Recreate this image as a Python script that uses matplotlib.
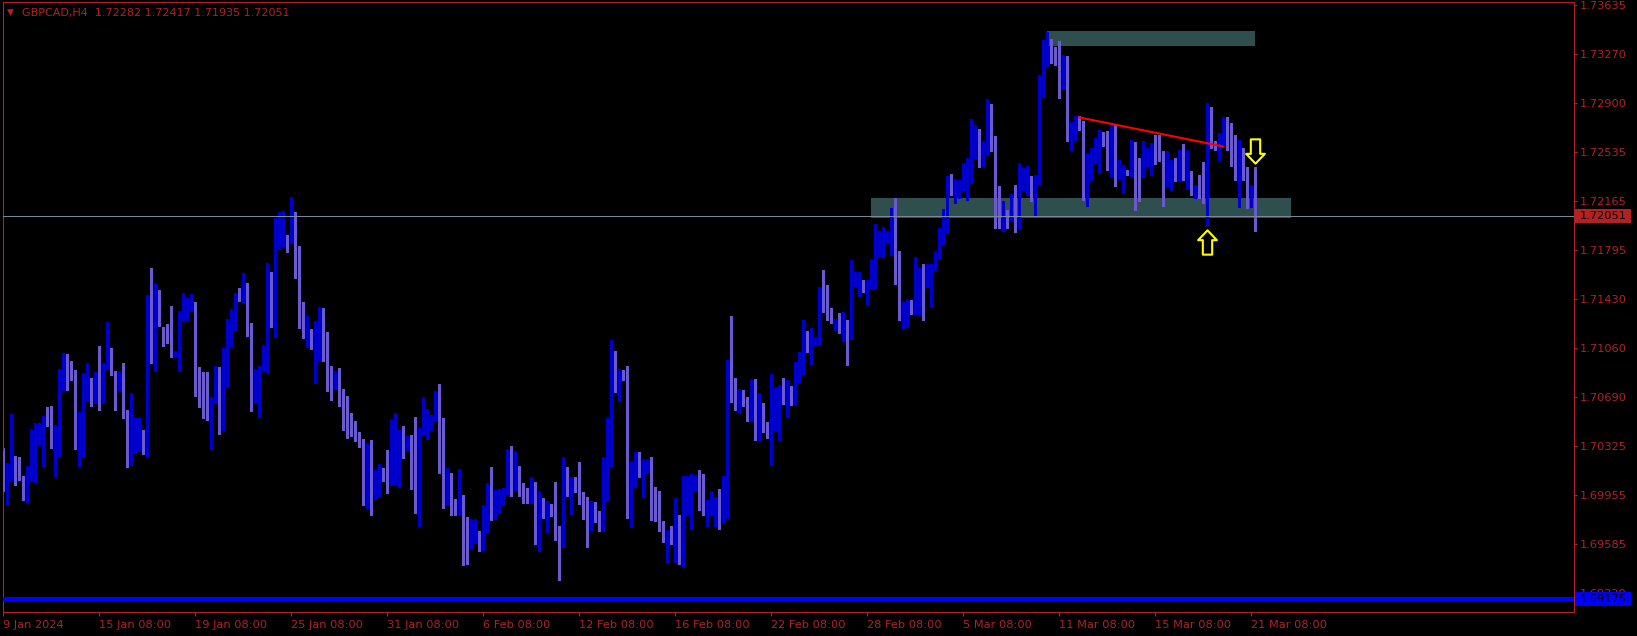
import numpy as np
import matplotlib
matplotlib.use('Agg')
import matplotlib.pyplot as plt
from matplotlib.patches import Rectangle
from matplotlib.path import Path

# GBPCAD H4 свечи (9 Jan - 21 Mar 2024)
opens = [
    1.70284, 1.70046, 1.70146, 1.70196, 1.70134, 1.70091, 1.69951, 1.70139, 1.70301, 1.70366,
    1.70246, 1.70536, 1.70491, 1.70316, 1.70334, 1.70764, 1.70904, 1.70889, 1.70881, 1.70314,
    1.70346, 1.70734, 1.70724, 1.70656, 1.70869, 1.70709, 1.70914, 1.71061, 1.70829, 1.70784,
    1.70881, 1.70596, 1.70196, 1.70296, 1.70401, 1.70426, 1.70334, 1.71414, 1.71031, 1.71489,
    1.71171, 1.71181, 1.71174, 1.70996, 1.71034, 1.71279, 1.71321, 1.71354, 1.71384, 1.70796,
    1.70801, 1.70791, 1.70366, 1.70651, 1.70919, 1.70559, 1.70996, 1.71109, 1.71219, 1.71474,
    1.71429, 1.71526, 1.71249, 1.70649, 1.70581, 1.70896, 1.71071, 1.71586, 1.71469, 1.71834,
    1.71829, 1.71901, 1.71864, 1.71879, 1.71804, 1.71264, 1.71144, 1.71204, 1.71071, 1.71086,
    1.71174, 1.71144, 1.70786, 1.70769, 1.70806, 1.70671, 1.70566, 1.70551, 1.70446, 1.70416,
    1.70349, 1.69969, 1.70319, 1.70081, 1.69946, 1.70116, 1.70109, 1.70051, 1.70209, 1.70319,
    1.70319, 1.70306, 1.70341, 1.70161, 1.70141, 1.70420, 1.70425, 1.70450, 1.70515, 1.70550,
    1.70225, 1.69915, 1.69995, 1.69898, 1.69865, 1.69943, 1.69610, 1.69570, 1.69595, 1.69650,
    1.69608, 1.69735, 1.70040, 1.69860, 1.69880, 1.69950, 1.69965, 1.70175, 1.70003, 1.70070,
    1.69965, 1.69965, 1.69920, 1.70040, 1.69653, 1.69890, 1.69713, 1.69865, 1.69845, 1.69700,
    1.69568, 1.70115, 1.69883, 1.70055, 1.69995, 1.69943, 1.69883, 1.69815, 1.69823, 1.69770,
    1.69763, 1.70228, 1.70288, 1.70963, 1.70663, 1.70865, 1.70858, 1.69808, 1.70153, 1.70213,
    1.69958, 1.70145, 1.70175, 1.69935, 1.69898, 1.69763, 1.69470, 1.69665, 1.69635, 1.69658,
    1.69590, 1.69885, 1.69765, 1.70003, 1.70063, 1.69965, 1.69830, 1.69853, 1.69763, 1.69943,
    1.69800, 1.69960, 1.70852, 1.70822, 1.70650, 1.70702, 1.70665, 1.70582, 1.70717, 1.70410,
    1.70485, 1.70462, 1.70417, 1.70492, 1.70537, 1.70747, 1.70560, 1.70717, 1.70680, 1.70815,
    1.70890, 1.71122, 1.70972, 1.71092, 1.71115, 1.71452, 1.71430, 1.71347, 1.71220, 1.71250,
    1.71190, 1.71205, 1.71182, 1.71535, 1.71452, 1.71550, 1.71490, 1.71527, 1.71677, 1.71790,
    1.71797, 1.71895, 1.71917, 1.72067, 1.71625, 1.71302, 1.71257, 1.71385, 1.71325, 1.71467,
    1.71587, 1.71520, 1.71385, 1.71670, 1.71737, 1.71925, 1.71977, 1.72292, 1.72157, 1.72225,
    1.72292, 1.72352, 1.72450, 1.72555, 1.72600, 1.72435, 1.72540, 1.72885, 1.72600, 1.72111,
    1.71973, 1.72036, 1.72036, 1.72203, 1.71953, 1.72298, 1.72218, 1.72278, 1.72218, 1.72356,
    1.72973, 1.73218, 1.73336, 1.73223, 1.73218, 1.73023, 1.73223, 1.72623, 1.72636, 1.72766,
    1.72728, 1.72266, 1.72323, 1.72498, 1.72461, 1.72616, 1.72598, 1.72348, 1.72681, 1.72348,
    1.72273, 1.72378, 1.72361, 1.72523, 1.72448, 1.72386, 1.72448, 1.72448, 1.72578, 1.72568,
    1.72473, 1.72423, 1.72248, 1.72436, 1.72328, 1.72406, 1.72348, 1.72373, 1.72223, 1.72316,
    1.72316, 1.72198, 1.72781, 1.72586, 1.72511, 1.72618, 1.72691, 1.72661, 1.72436, 1.72328,
    1.72486, 1.72352, 1.72202, 1.72282]
highs = [
    1.70309, 1.70196, 1.70566, 1.70246, 1.70241, 1.70096, 1.70176, 1.70454, 1.70496, 1.70496,
    1.70551, 1.70619, 1.70626, 1.70484, 1.70901, 1.71021, 1.71016, 1.70961, 1.70896, 1.70581,
    1.70871, 1.70949, 1.70834, 1.70876, 1.71076, 1.70946, 1.71256, 1.71061, 1.70889, 1.70889,
    1.70949, 1.70596, 1.70724, 1.70531, 1.70536, 1.70446, 1.71456, 1.71661, 1.71549, 1.71496,
    1.71216, 1.71241, 1.71376, 1.71039, 1.71334, 1.71476, 1.71434, 1.71466, 1.71406, 1.70919,
    1.70876, 1.70881, 1.70689, 1.70926, 1.70919, 1.71061, 1.71274, 1.71354, 1.71474, 1.71509,
    1.71624, 1.71551, 1.71249, 1.70904, 1.70926, 1.71084, 1.71699, 1.71631, 1.72036, 1.72081,
    1.72089, 1.71909, 1.72194, 1.72081, 1.71826, 1.71406, 1.71301, 1.71204, 1.71264, 1.71369,
    1.71361, 1.71181, 1.70926, 1.70889, 1.70911, 1.70754, 1.70701, 1.70574, 1.70514, 1.70426,
    1.70379, 1.70349, 1.70371, 1.70146, 1.70191, 1.70161, 1.70296, 1.70529, 1.70574, 1.70446,
    1.70476, 1.70404, 1.70404, 1.70544, 1.70461, 1.70690, 1.70603, 1.70558, 1.70738, 1.70790,
    1.70535, 1.70160, 1.70123, 1.69928, 1.70153, 1.69958, 1.69793, 1.69778, 1.69778, 1.69688,
    1.69883, 1.70048, 1.70168, 1.69990, 1.70003, 1.70008, 1.70303, 1.70325, 1.70288, 1.70175,
    1.70048, 1.70010, 1.70093, 1.70055, 1.69988, 1.69935, 1.69913, 1.69890, 1.70055, 1.69725,
    1.70243, 1.70168, 1.70093, 1.70093, 1.70205, 1.69980, 1.69943, 1.69913, 1.69905, 1.69838,
    1.70243, 1.70535, 1.71120, 1.71038, 1.70903, 1.70895, 1.70925, 1.70213, 1.70280, 1.70280,
    1.70228, 1.70228, 1.70243, 1.70018, 1.69988, 1.69763, 1.69695, 1.69725, 1.69935, 1.69808,
    1.70100, 1.70100, 1.70115, 1.70108, 1.70145, 1.70115, 1.69920, 1.69988, 1.69943, 1.70000,
    1.70100, 1.70972, 1.71302, 1.70837, 1.70755, 1.70747, 1.70695, 1.70830, 1.70830, 1.70725,
    1.70650, 1.70507, 1.70867, 1.70770, 1.70785, 1.70837, 1.70822, 1.70777, 1.70957, 1.71032,
    1.71272, 1.71190, 1.71212, 1.71145, 1.71520, 1.71647, 1.71535, 1.71362, 1.71280, 1.71325,
    1.71332, 1.71272, 1.71722, 1.71632, 1.71632, 1.71572, 1.71572, 1.71730, 1.71992, 1.71940,
    1.71970, 1.71940, 1.72112, 1.72187, 1.71790, 1.71415, 1.71430, 1.71422, 1.71745, 1.71662,
    1.71692, 1.71692, 1.71692, 1.71790, 1.71962, 1.72105, 1.72352, 1.72367, 1.72330, 1.72322,
    1.72450, 1.72487, 1.72780, 1.72735, 1.72705, 1.72615, 1.72930, 1.72892, 1.72652, 1.72273,
    1.72161, 1.72098, 1.72218, 1.72286, 1.72448, 1.72411, 1.72423, 1.72348, 1.72361, 1.73111,
    1.73373, 1.73431, 1.73381, 1.73323, 1.73366, 1.73256, 1.73253, 1.72753, 1.72798, 1.72798,
    1.72761, 1.72523, 1.72561, 1.72636, 1.72698, 1.72678, 1.72691, 1.72748, 1.72741, 1.72473,
    1.72436, 1.72398, 1.72623, 1.72606, 1.72486, 1.72611, 1.72561, 1.72598, 1.72661, 1.72661,
    1.72536, 1.72541, 1.72473, 1.72486, 1.72548, 1.72593, 1.72548, 1.72386, 1.72286, 1.72361,
    1.72456, 1.72898, 1.72873, 1.72611, 1.72673, 1.72793, 1.72796, 1.72748, 1.72661, 1.72623,
    1.72561, 1.72422, 1.72280, 1.72417]
lows = [
    1.69984, 1.69884, 1.70071, 1.70034, 1.70071, 1.69916, 1.69901, 1.70059, 1.70051, 1.70334,
    1.70176, 1.70476, 1.70309, 1.70096, 1.70251, 1.70746, 1.70741, 1.70821, 1.70301, 1.70171,
    1.70239, 1.70671, 1.70621, 1.70646, 1.70591, 1.70646, 1.70909, 1.70854, 1.70596, 1.70746,
    1.70531, 1.70164, 1.70181, 1.70271, 1.70296, 1.70266, 1.70239, 1.70944, 1.70889, 1.71226,
    1.71071, 1.71096, 1.70989, 1.70989, 1.70889, 1.71271, 1.71271, 1.71341, 1.70701, 1.70619,
    1.70531, 1.70521, 1.70301, 1.70646, 1.70416, 1.70446, 1.70764, 1.71071, 1.71191, 1.71414,
    1.71399, 1.71146, 1.70589, 1.70646, 1.70544, 1.70896, 1.70881, 1.71219, 1.71144, 1.71804,
    1.71829, 1.71784, 1.71849, 1.71586, 1.71211, 1.71136, 1.71069, 1.71054, 1.70794, 1.70959,
    1.70959, 1.70734, 1.70666, 1.70754, 1.70621, 1.70441, 1.70381, 1.70396, 1.70359, 1.70314,
    1.69879, 1.69856, 1.69804, 1.69926, 1.69946, 1.70059, 1.69969, 1.70036, 1.70036, 1.70014,
    1.70231, 1.70291, 1.69999, 1.69819, 1.69721, 1.70415, 1.70375, 1.70445, 1.70515, 1.70120,
    1.69855, 1.69883, 1.69808, 1.69808, 1.69810, 1.69428, 1.69435, 1.69558, 1.69595, 1.69533,
    1.69540, 1.69675, 1.69770, 1.69778, 1.69820, 1.69880, 1.69965, 1.69945, 1.69995, 1.69950,
    1.69898, 1.69895, 1.69898, 1.69585, 1.69533, 1.69783, 1.69680, 1.69800, 1.69615, 1.69320,
    1.69568, 1.69950, 1.69815, 1.69975, 1.69890, 1.69778, 1.69568, 1.69695, 1.69755, 1.69688,
    1.69688, 1.69913, 1.70175, 1.70730, 1.70663, 1.70820, 1.69785, 1.69718, 1.70018, 1.70093,
    1.69943, 1.70130, 1.69770, 1.69763, 1.69688, 1.69605, 1.69455, 1.69590, 1.69455, 1.69440,
    1.69425, 1.69815, 1.69703, 1.69995, 1.69845, 1.69808, 1.69725, 1.69808, 1.69725, 1.69700,
    1.69750, 1.69780, 1.70657, 1.70597, 1.70575, 1.70627, 1.70515, 1.70515, 1.70372, 1.70372,
    1.70425, 1.70380, 1.70180, 1.70447, 1.70372, 1.70642, 1.70545, 1.70635, 1.70642, 1.70807,
    1.70867, 1.71032, 1.70942, 1.71085, 1.71085, 1.71330, 1.71272, 1.71250, 1.71197, 1.71175,
    1.71115, 1.70935, 1.71130, 1.71527, 1.71452, 1.71482, 1.71392, 1.71512, 1.71505, 1.71752,
    1.71745, 1.71850, 1.71760, 1.71542, 1.71272, 1.71212, 1.71220, 1.71317, 1.71317, 1.71317,
    1.71272, 1.71520, 1.71370, 1.71647, 1.71737, 1.71835, 1.71925, 1.72210, 1.72150, 1.72187,
    1.72247, 1.72172, 1.72300, 1.72487, 1.72420, 1.72427, 1.72517, 1.72540, 1.71962, 1.71961,
    1.71936, 1.71961, 1.72023, 1.71928, 1.71953, 1.72248, 1.72211, 1.72161, 1.72048, 1.72286,
    1.72948, 1.73178, 1.73203, 1.73186, 1.72936, 1.73003, 1.72611, 1.72548, 1.72623, 1.72698,
    1.72173, 1.72123, 1.72323, 1.72448, 1.72373, 1.72573, 1.72398, 1.72348, 1.72273, 1.72336,
    1.72223, 1.72356, 1.72348, 1.72093, 1.72161, 1.72353, 1.72423, 1.72356, 1.72443, 1.72461,
    1.72123, 1.72273, 1.72248, 1.72311, 1.72311, 1.72323, 1.72253, 1.72211, 1.72186, 1.72186,
    1.72148, 1.71986, 1.72561, 1.72548, 1.72473, 1.72593, 1.72548, 1.72423, 1.72323, 1.72116,
    1.72323, 1.72109, 1.72117, 1.71935]
closes = [
    1.69984, 1.70146, 1.70196, 1.70159, 1.70076, 1.69951, 1.70146, 1.70301, 1.70371, 1.70451,
    1.70536, 1.70481, 1.70316, 1.70346, 1.70776, 1.70926, 1.70889, 1.70881, 1.70311, 1.70364,
    1.70739, 1.70901, 1.70656, 1.70869, 1.70709, 1.70916, 1.71061, 1.70854, 1.70784, 1.70889,
    1.70596, 1.70191, 1.70301, 1.70481, 1.70431, 1.70334, 1.71406, 1.71031, 1.71489, 1.71226,
    1.71166, 1.71166, 1.70996, 1.71039, 1.71286, 1.71354, 1.71366, 1.71384, 1.70791, 1.70791,
    1.70784, 1.70584, 1.70656, 1.70914, 1.70566, 1.71004, 1.71114, 1.71294, 1.71469, 1.71429,
    1.71526, 1.71244, 1.70649, 1.70759, 1.70901, 1.71084, 1.71576, 1.71469, 1.71841, 1.72081,
    1.71906, 1.71864, 1.71879, 1.71791, 1.71256, 1.71184, 1.71204, 1.71071, 1.71084, 1.71181,
    1.71136, 1.70851, 1.70779, 1.70806, 1.70666, 1.70561, 1.70546, 1.70486, 1.70411, 1.70344,
    1.69969, 1.70319, 1.70081, 1.70131, 1.70116, 1.70096, 1.70051, 1.70206, 1.70319, 1.70439,
    1.70306, 1.70341, 1.70156, 1.70141, 1.70424, 1.70555, 1.70460, 1.70520, 1.70550, 1.70220,
    1.69915, 1.70070, 1.69903, 1.69870, 1.69935, 1.69600, 1.69570, 1.69760, 1.69655, 1.69608,
    1.69740, 1.70040, 1.69860, 1.69965, 1.69955, 1.69975, 1.70175, 1.70070, 1.70070, 1.69988,
    1.69950, 1.69928, 1.70040, 1.69658, 1.69890, 1.69815, 1.69865, 1.69840, 1.69695, 1.69575,
    1.70115, 1.69975, 1.70055, 1.69995, 1.69935, 1.69875, 1.69815, 1.69853, 1.69763, 1.69763,
    1.70213, 1.70295, 1.70963, 1.70783, 1.70865, 1.70850, 1.69808, 1.70160, 1.70213, 1.70145,
    1.70153, 1.70175, 1.69928, 1.69890, 1.69755, 1.69628, 1.69665, 1.69635, 1.69658, 1.69590,
    1.69890, 1.69920, 1.70010, 1.70063, 1.69958, 1.69830, 1.69860, 1.69935, 1.69943, 1.69800,
    1.69960, 1.70852, 1.70815, 1.70687, 1.70702, 1.70657, 1.70582, 1.70717, 1.70410, 1.70650,
    1.70455, 1.70417, 1.70500, 1.70537, 1.70747, 1.70650, 1.70717, 1.70672, 1.70815, 1.70897,
    1.71107, 1.71107, 1.71100, 1.71122, 1.71452, 1.71422, 1.71332, 1.71310, 1.71250, 1.71190,
    1.71205, 1.71175, 1.71542, 1.71617, 1.71550, 1.71490, 1.71535, 1.71677, 1.71797, 1.71895,
    1.71910, 1.71925, 1.72060, 1.71610, 1.71302, 1.71415, 1.71392, 1.71325, 1.71467, 1.71587,
    1.71520, 1.71580, 1.71677, 1.71745, 1.71932, 1.71992, 1.72292, 1.72240, 1.72232, 1.72292,
    1.72360, 1.72457, 1.72562, 1.72675, 1.72427, 1.72547, 1.72885, 1.72600, 1.72097, 1.72011,
    1.72048, 1.72028, 1.72203, 1.71948, 1.72311, 1.72386, 1.72286, 1.72223, 1.72361, 1.72978,
    1.73223, 1.73356, 1.73218, 1.73198, 1.73023, 1.73223, 1.72623, 1.72748, 1.72766, 1.72723,
    1.72266, 1.72323, 1.72511, 1.72598, 1.72616, 1.72593, 1.72536, 1.72681, 1.72348, 1.72386,
    1.72373, 1.72361, 1.72523, 1.72361, 1.72386, 1.72568, 1.72503, 1.72573, 1.72461, 1.72473,
    1.72423, 1.72433, 1.72433, 1.72328, 1.72411, 1.72348, 1.72378, 1.72248, 1.72253, 1.72253,
    1.72198, 1.72781, 1.72561, 1.72566, 1.72628, 1.72691, 1.72661, 1.72431, 1.72328, 1.72481,
    1.72341, 1.72202, 1.72280, 1.72051]

x_ticks = [0, 24, 48, 72, 96, 120, 144, 168, 192, 216, 240, 264, 288, 312]
x_labels = ['9 Jan 2024', '15 Jan 08:00', '19 Jan 08:00', '25 Jan 08:00', '31 Jan 08:00',
            '6 Feb 08:00', '12 Feb 08:00', '16 Feb 08:00', '22 Feb 08:00', '28 Feb 08:00',
            '5 Mar 08:00', '11 Mar 08:00', '15 Mar 08:00', '21 Mar 08:00']
y_ticks = [1.73635, 1.73270, 1.72900, 1.72535, 1.72165, 1.71795, 1.71430,
           1.71060, 1.70690, 1.70325, 1.69955, 1.69585, 1.69220]

bid_price = 1.72051
blue_level = 1.69175
# зоны: (бар начала, бар конца, низ, верх)
zone_top = (261, 313, 1.73328, 1.73440)
zone_mid = (217, 322, 1.72032, 1.72186)
trend_bars = [269, 305]
trend_prices = [1.72791, 1.72573]
arrow_up_at = (301, 1.71852)
arrow_down_at = (313, 1.72539)

RED = '#B22222'
BULL = '#0000CD'
BEAR = '#6A5ACD'

plt.rcParams['font.family'] = ['DejaVu Sans']

fig = plt.figure(figsize=(16.37, 6.36), dpi=100, facecolor='black')
ax = fig.add_axes([0.00153, 0.03774, 0.95968, 0.95833], facecolor='black')

o = np.array(opens); h = np.array(highs); l = np.array(lows); c = np.array(closes)
x = np.arange(len(o))
cols = np.where(c >= o, BULL, BEAR)

# зоны под свечами
for b0, b1, lo, hi in [zone_top, zone_mid]:
    ax.add_patch(Rectangle((b0, lo), b1 - b0, hi - lo, facecolor='#2F4F4F',
                           edgecolor='none', zorder=0.5))

ax.vlines(x, l, h, colors=cols, linewidth=0.75, antialiased=False, zorder=2)
body_lo = np.minimum(o, c)
body_h = np.maximum(np.abs(c - o), 0.00008)
ax.bar(x, body_h, bottom=body_lo, width=0.75, color=cols, linewidth=0,
       antialiased=False, zorder=3)

ax.plot(trend_bars, trend_prices, color='red', linewidth=1.5, zorder=4)

ax.axhline(bid_price, color='#778899', linewidth=0.75, zorder=5)
ax.axhline(blue_level, color='#0000FF', linewidth=2.9, zorder=5)

# стрелки
up_path = Path([(0, 13), (10, 2.5), (5, 2.5), (5, -13), (-5, -13), (-5, 2.5), (-10, 2.5), (0, 13)],
               [Path.MOVETO] + [Path.LINETO] * 6 + [Path.CLOSEPOLY])
down_path = Path([(0, -13), (10, -2.5), (5, -2.5), (5, 13), (-5, 13), (-5, -2.5), (-10, -2.5), (0, -13)],
                 [Path.MOVETO] + [Path.LINETO] * 6 + [Path.CLOSEPOLY])
ax.plot([arrow_up_at[0]], [arrow_up_at[1]], marker=up_path, markersize=17.5,
        markerfacecolor='black', markeredgecolor='yellow', markeredgewidth=1.5, zorder=6)
ax.plot([arrow_down_at[0]], [arrow_down_at[1]], marker=down_path, markersize=17.5,
        markerfacecolor='black', markeredgecolor='yellow', markeredgewidth=1.5, zorder=6)

ax.set_xlim(-0.2, 392.55)
ax.set_ylim(1.69077, 1.73654)

for s in ax.spines.values():
    s.set_color(RED)
    s.set_linewidth(0.8)

ax.yaxis.tick_right()
ax.set_yticks(y_ticks)
ax.set_yticklabels([f'{v:.5f}' for v in y_ticks])
ax.tick_params(axis='y', colors=RED, length=2.2, width=0.75, pad=2.5, labelsize=8.2)
ax.set_xticks(x_ticks)
ax.set_xticklabels(x_labels)
ax.tick_params(axis='x', colors=RED, length=3, width=0.75, pad=2.5, labelsize=8.2)
for t in ax.get_xticklabels():
    t.set_horizontalalignment('left')

# метки цены справа
tr = ax.get_yaxis_transform()
for price, bg in [(bid_price, RED), (blue_level, '#0000FF')]:
    ax.add_patch(Rectangle((1.00095, price - 0.000525), 0.03565, 0.00105, transform=tr,
                           facecolor=bg, edgecolor='none', clip_on=False, zorder=7))
    ax.text(1.00414, price, f'{price:.5f}', transform=tr, color='black', fontsize=8.2,
            va='center', ha='left', clip_on=False, zorder=8)

fig.text(10.5 / 1637, 1 - 12.5 / 636, '\u25bc', color=RED, fontsize=6.5, ha='center', va='center')
fig.text(22 / 1637, 1 - 12.7 / 636, 'GBPCAD,H4  1.72282 1.72417 1.71935 1.72051',
         color=RED, fontsize=8, ha='left', va='center')

fig.savefig('out.png', dpi=100, facecolor='black')
